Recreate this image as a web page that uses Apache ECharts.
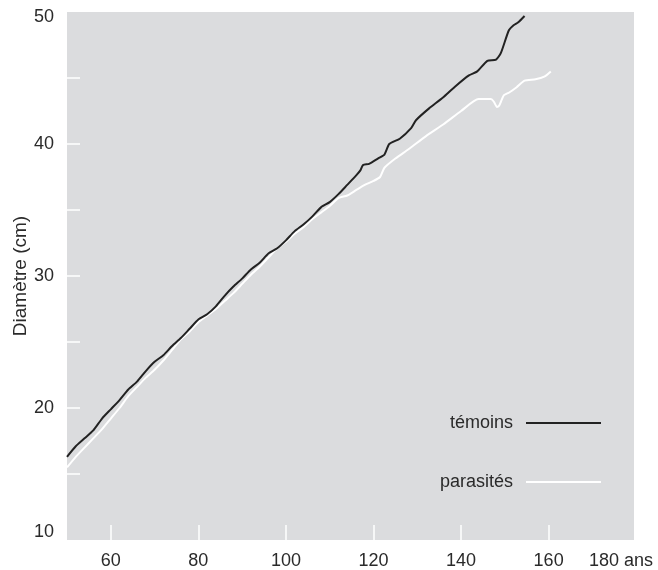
<!DOCTYPE html>
<html>
<head>
<meta charset="utf-8">
<script src="https://cdn.jsdelivr.net/npm/echarts@6/dist/echarts.min.js"></script>
<style>
html,body{margin:0;padding:0;background:#fff;}
#c{width:658px;height:570px;}
</style>
</head>
<body>
<div id="c"></div>
<script>
// Data
const temoinsAges = [50,52,54,56,58,60,62,64,66,68,70,72,74,76,78,80,82,84,86,88,90,92,94,96,98,100,102,104,106,108,110,112,114,116,117,117.6,119,121,122.5,123.6,126,128.6,129.7,132.7,135.8,138.8,141.8,143.7,146,148,149.1,150.9,152,153,154.5];
const temoinsDiam = [16.3,17.1,17.7,18.3,19.2,19.9,20.6,21.4,22.0,22.8,23.5,24.0,24.7,25.3,26.0,26.7,27.1,27.7,28.5,29.2,29.8,30.5,31.0,31.7,32.1,32.7,33.4,33.9,34.5,35.2,35.6,36.2,36.9,37.6,38.0,38.4,38.5,38.9,39.2,40.0,40.4,41.2,41.8,42.7,43.5,44.4,45.2,45.5,46.3,46.4,46.9,48.6,49.0,49.2,49.7];
const parasitesAges = [50,52,54,56,58,60,62,64,66,68,70,72,74,76,78,80,82,84,86,88,90,92,94,96,98,100,102,104,106,108,110,112,114,116,118,120,121.5,122.5,125,128,132,136,140,144,146.8,147.5,148.2,148.7,149.1,149.8,151,152.7,154.5,157,159,160.5];
const parasitesDiam = [15.5,16.3,17.0,17.7,18.4,19.2,20.0,20.9,21.6,22.3,22.9,23.6,24.4,25.2,25.8,26.5,27.0,27.5,28.1,28.7,29.4,30.1,30.7,31.4,32.1,32.6,33.2,33.7,34.3,34.8,35.3,35.9,36.1,36.5,36.9,37.2,37.5,38.2,38.9,39.6,40.6,41.5,42.5,43.4,43.4,43.2,42.8,42.9,43.2,43.7,43.9,44.3,44.8,44.9,45.1,45.5];
const seriesNames = ['témoins','parasités'];
const xTickValues = [60,80,100,120,140,160];
const yLabelValues = [10,20,30,40,50];
const yTickValues = [15,20,25,30,35,40,45];
const yAxisName = 'Diamètre (cm)';
const xUnitLabel = '180 ans';

const FONT = '"Liberation Sans", Arial, Helvetica, sans-serif';
const TXT = '#2a2a2a';

const chart = echarts.init(document.getElementById('c'), null, {renderer:'canvas'});
const temoinsData = temoinsAges.map((a,i)=>[a, temoinsDiam[i]]);
const parasitesData = parasitesAges.map((a,i)=>[a, parasitesDiam[i]]);

chart.setOption({
  animation:false,
  backgroundColor:'#ffffff',
  textStyle:{fontFamily:FONT},
  grid:{left:67, top:12, right:24, bottom:30, show:true, backgroundColor:'#dbdcde', borderWidth:0, containLabel:false, outerBoundsMode:'none'},
  legend:{
    data:seriesNames,
    orient:'vertical',
    align:'right',
    right:57,
    top:413,
    padding:0,
    itemGap:39,
    itemWidth:75,
    itemHeight:2,
    icon:'rect',
    textStyle:{fontSize:18, color:TXT, fontFamily:FONT, lineHeight:20, padding:[0,8,0,0]}
  },
  xAxis:{
    type:'value', min:50, max:179.5,
    axisLine:{show:false},
    splitLine:{show:false},
    axisTick:{show:true, inside:true, length:15, customValues:xTickValues, lineStyle:{color:'#ffffff', width:1.5}},
    axisLabel:{customValues:xTickValues, fontSize:18, color:TXT, fontFamily:FONT, margin:12}
  },
  yAxis:{
    type:'value', min:10, max:50, interval:10,
    name:yAxisName, nameLocation:'middle', nameGap:37, nameMoveOverlap:false,
    nameTextStyle:{fontSize:19, color:TXT, fontFamily:FONT},
    axisLine:{show:false},
    splitLine:{show:false},
    axisTick:{show:true, inside:true, length:13, customValues:yTickValues, lineStyle:{color:'#ffffff', width:1.5}},
    axisLabel:{
      customValues:yLabelValues, fontSize:18, color:TXT, fontFamily:FONT, margin:13,
      formatter:function(v){ if(v===10) return '{lo|10}'; if(v===50) return '{hi|50}'; return String(v); },
      rich:{
        lo:{fontSize:18, color:TXT, fontFamily:FONT, padding:[0,0,16,0]},
        hi:{fontSize:18, color:TXT, fontFamily:FONT, padding:[10,0,0,0]}
      }
    }
  },
  graphic:[{
    type:'text', left:589, top:552,
    style:{text:xUnitLabel, fontSize:18, fill:TXT, fontFamily:FONT}
  }],
  series:[
    {name:'témoins', type:'line', data:temoinsData, showSymbol:false, smooth:0.2, z:3,
     lineStyle:{color:'#222222', width:2}, itemStyle:{color:'#222222'}},
    {name:'parasités', type:'line', data:parasitesData, showSymbol:false, smooth:0.2, z:2,
     lineStyle:{color:'#ffffff', width:2}, itemStyle:{color:'#ffffff'}}
  ]
});
</script>
</body>
</html>
